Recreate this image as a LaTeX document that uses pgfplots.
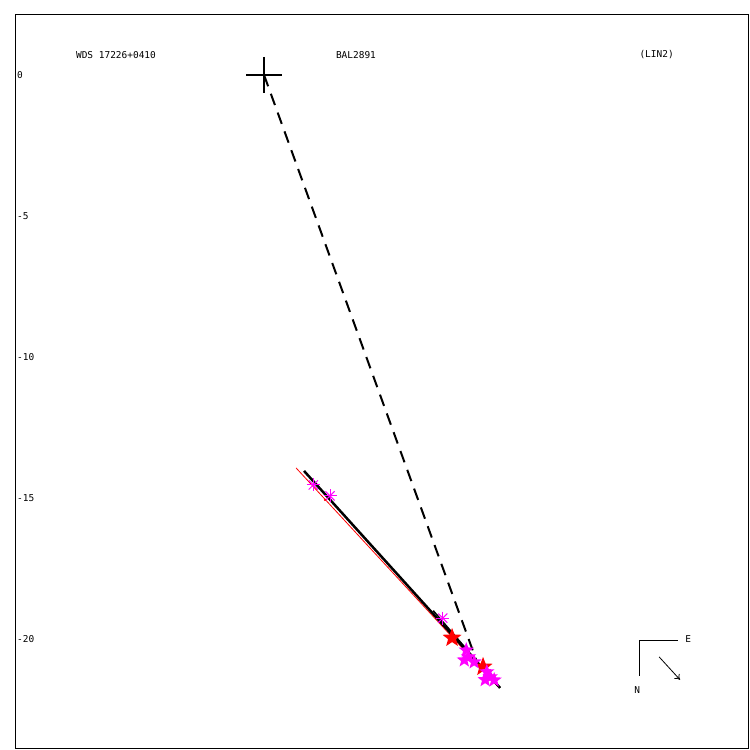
\documentclass[border=0pt]{standalone}
\usepackage{pgfplots}
\pgfplotsset{compat=1.18}
\usepackage{fontspec}
\setmainfont{DejaVu Sans Mono}
\usetikzlibrary{arrows.meta}
\definecolor{mag}{RGB}{255,0,255}
\definecolor{rd}{RGB}{255,0,0}
\pgfdeclareplotmark{fstar}{%
 \pgfpathmoveto{\pgfpointpolar{90}{\pgfplotmarksize}}%
 \pgfpathlineto{\pgfpointpolar{126}{0.42\pgfplotmarksize}}%
 \pgfpathlineto{\pgfpointpolar{162}{\pgfplotmarksize}}%
 \pgfpathlineto{\pgfpointpolar{198}{0.42\pgfplotmarksize}}%
 \pgfpathlineto{\pgfpointpolar{234}{\pgfplotmarksize}}%
 \pgfpathlineto{\pgfpointpolar{270}{0.42\pgfplotmarksize}}%
 \pgfpathlineto{\pgfpointpolar{306}{\pgfplotmarksize}}%
 \pgfpathlineto{\pgfpointpolar{342}{0.42\pgfplotmarksize}}%
 \pgfpathlineto{\pgfpointpolar{18}{\pgfplotmarksize}}%
 \pgfpathlineto{\pgfpointpolar{54}{0.42\pgfplotmarksize}}%
 \pgfpathclose
 \pgfusepathqfill
}
\begin{document}
\begin{tikzpicture}
\begin{axis}[
  width=733bp, height=733bp, scale only axis,
  xmin=-8.83, xmax=17.16, ymin=-23.87, ymax=2.128,
  axis line style={line width=1bp},
  xtick=\empty, ytick={-20,-15,-10,-5,0},
  major tick length=0pt,
  /pgf/number format/assume math mode=true,
  yticklabel style={anchor=west, xshift=2bp, inner sep=0pt, font=\fontsize{9.5}{11}\selectfont},
  clip=false,
]
% dashed line primary -> companion
\addplot[black, line width=2bp, dash pattern=on 12bp off 8bp] coordinates {(0,0) (7.52,-20.74)};
% red thin line
\addplot[rd, line width=0.8bp] coordinates {(1.135,-13.936) (8.30,-21.70)};
% black fit
\addplot[black, line width=2.5bp] coordinates {(1.418,-14.043) (8.369,-21.738)};
% magenta asterisks
\addplot[mag, only marks, mark=+, mark size=6.5bp, line width=1bp] coordinates {(1.748,-14.539) (2.340,-14.929) (6.337,-19.266)};
\addplot[mag, only marks, mark=x, mark size=6.5bp, line width=1bp] coordinates {(1.748,-14.539) (2.340,-14.929) (6.337,-19.266)};
% red small dot
\addplot[rd, only marks, mark=*, mark size=1bp] coordinates {(2.163,-15.07)};
% red stars
\addplot[rd, only marks, mark=fstar, mark size=10bp] coordinates {(6.667,-19.965) (7.766,-20.993)};
% magenta filled clusters
\addplot[mag, only marks, mark=fstar, mark size=8bp] coordinates {(7.17,-20.40) (7.25,-20.64) (7.45,-20.82) (7.10,-20.75) (7.90,-21.17) (8.02,-21.35) (8.16,-21.46) (7.84,-21.45)};
% redraw black fit line end on top
\addplot[black, line width=1.5bp] coordinates {(6.0,-19.0) (8.369,-21.738)};
% primary cross
\addplot[black, only marks, mark=+, mark size=18bp, line width=2bp] coordinates {(0,0)};
% orientation indicator
\addplot[black, line width=1bp] coordinates {(13.33,-21.31) (13.33,-20.04) (14.68,-20.04)};
\addplot[black, line width=0.8bp, -{To[length=5bp,width=7bp]}] coordinates {(14.01,-20.64) (14.75,-21.45)};
\node[font=\fontsize{9.5}{11}\selectfont] at (axis cs:15.04,-20.0) {E};
\node[font=\fontsize{9.5}{11}\selectfont] at (axis cs:13.23,-21.81) {N};
% header texts
\node[font=\fontsize{9.5}{11}\selectfont] at (axis cs:-5.25,0.709) {WDS 17226+0410};
\node[font=\fontsize{9.5}{11}\selectfont] at (axis cs:3.26,0.709) {BAL2891};
\node[font=\fontsize{9.5}{11}\selectfont] at (axis cs:13.92,0.709) {(LIN2)};
\end{axis}
\path ([xshift=-15bp,yshift=-2bp]current axis.south west) rectangle ([xshift=2bp,yshift=15bp]current axis.north east);
\end{tikzpicture}
\end{document}
